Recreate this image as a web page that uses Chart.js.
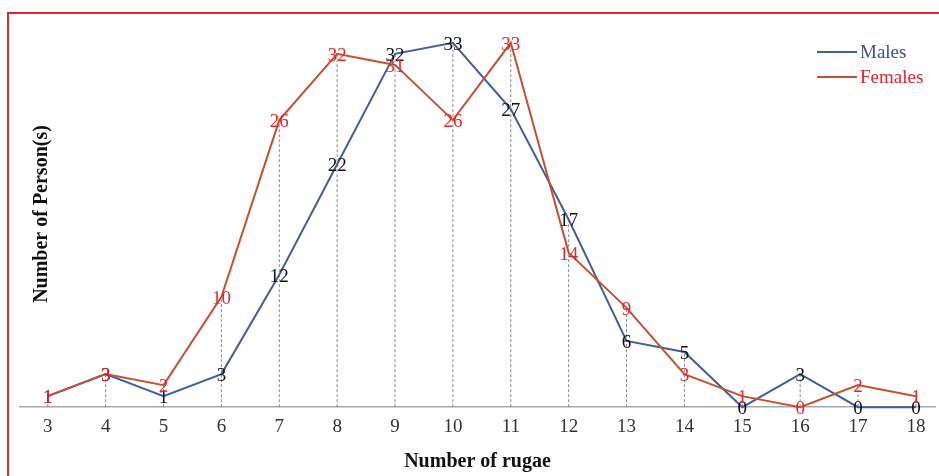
<!DOCTYPE html>
<html>
<head>
<meta charset="utf-8">
<script src="https://cdn.jsdelivr.net/npm/chart.js@4/dist/chart.umd.min.js"></script>
<style>
  html, body { margin: 0; padding: 0; background: #fff; overflow: hidden; }
  #wrap { position: relative; width: 939px; height: 476px; }
  #frame { position: absolute; left: 7px; top: 12px; width: 1000px; height: 600px; border: 2px solid #e0242c; box-sizing: border-box; pointer-events: none; }
  canvas { position: absolute; left: 0; top: 0; }
</style>
</head>
<body>
<div id="wrap">
  <canvas id="c" width="939" height="476"></canvas>
  <div id="frame"></div>
</div>
<script>
// ---- data ----
const rugae   = [3, 4, 5, 6, 7, 8, 9, 10, 11, 12, 13, 14, 15, 16, 17, 18];
const males   = [1, 3, 1, 3, 12, 22, 32, 33, 27, 17, 6, 5, 0, 3, 0, 0];
const females = [1, 3, 2, 10, 26, 32, 31, 26, 33, 14, 9, 3, 1, 0, 2, 1];
const seriesNames = ['Males', 'Females'];
const xTitle = 'Number of rugae';
const yTitle = 'Number of Person(s)';

const SERIF = '"Liberation Serif", "DejaVu Serif", serif';
const maleColor = '#3f5fa2';
const femaleColor = '#c4522f';
const maleText = '#3a4f9f';
const femaleText = '#e2242c';

const malePts = rugae.map((x, i) => ({ x, y: males[i] }));
const femalePts = rugae.map((x, i) => ({ x, y: females[i] }));
const dropPts = [];
rugae.forEach((x, i) => {
  const top = Math.max(males[i], females[i]);
  dropPts.push({ x, y: 0 }, { x, y: top }, { x, y: null });
});

const labelPlugin = {
  id: 'pointLabels',
  afterDatasetsDraw(chart) {
    const ctx = chart.ctx;
    ctx.save();
    ctx.font = '19px ' + SERIF;
    ctx.textAlign = 'center';
    ctx.textBaseline = 'middle';
    [['Males', '#111111', males], ['Females', '#e8262e', females]].forEach(([name, col, vals]) => {
      const di = chart.data.datasets.findIndex(d => d.label === name);
      const meta = chart.getDatasetMeta(di);
      ctx.fillStyle = col;
      meta.data.forEach((p, i) => {
        ctx.fillText(String(vals[i]), p.x, p.y + 2);
      });
    });
    ctx.restore();
  }
};

const extrasPlugin = {
  id: 'extras',
  afterDraw(chart) {
    const ctx = chart.ctx;
    ctx.save();
    const items = [[seriesNames[0], maleColor, maleText, 52], [seriesNames[1], femaleColor, femaleText, 77]];
    items.forEach(([name, lc, tc, y]) => {
      ctx.strokeStyle = lc;
      ctx.lineWidth = 2;
      ctx.beginPath();
      ctx.moveTo(817, y);
      ctx.lineTo(857, y);
      ctx.stroke();
      ctx.fillStyle = tc;
      ctx.font = '19px ' + SERIF;
      ctx.textAlign = 'left';
      ctx.textBaseline = 'middle';
      ctx.fillText(name, 860, y + 1);
    });
    ctx.translate(42, 214);
    ctx.rotate(-Math.PI / 2);
    ctx.fillStyle = '#111';
    ctx.font = 'bold 20px ' + SERIF;
    ctx.textAlign = 'center';
    ctx.textBaseline = 'middle';
    ctx.fillText(yTitle, 0, 0);
    ctx.restore();
  }
};

new Chart(document.getElementById('c'), {
  type: 'line',
  data: {
    datasets: [
      { label: seriesNames[1], data: femalePts, borderColor: femaleColor, borderWidth: 2, pointRadius: 0, tension: 0, clip: false, order: 1 },
      { label: seriesNames[0], data: malePts, borderColor: maleColor, borderWidth: 2, pointRadius: 0, tension: 0, clip: false, order: 2 },
      { label: 'drops', data: dropPts, borderColor: '#8a8a8a', borderWidth: 1, borderDash: [3, 2], pointRadius: 0, spanGaps: false, clip: false, order: 10 }
    ]
  },
  options: {
    responsive: false,
    animation: false,
    events: [],
    layout: { padding: { left: 20, right: 4, top: 13, bottom: 2 } },
    plugins: { legend: { display: false }, tooltip: { enabled: false } },
    scales: {
      x: {
        type: 'linear',
        min: 2.52,
        max: 18.33,
        afterBuildTicks(scale) { scale.ticks = rugae.map(v => ({ value: v })); },
        grid: { display: false, drawTicks: false },
        border: { display: true, color: '#a8a8a8', width: 1.5 },
        ticks: { color: '#333', font: { family: SERIF, size: 19 }, padding: 8, autoSkip: false, maxRotation: 0 },
        title: { display: true, text: xTitle, color: '#111', font: { family: SERIF, size: 20, weight: 'bold' }, padding: { top: 4, bottom: 0 } }
      },
      y: { display: false, min: 0, max: 35.7 }
    }
  },
  plugins: [labelPlugin, extrasPlugin]
});
</script>
</body>
</html>
